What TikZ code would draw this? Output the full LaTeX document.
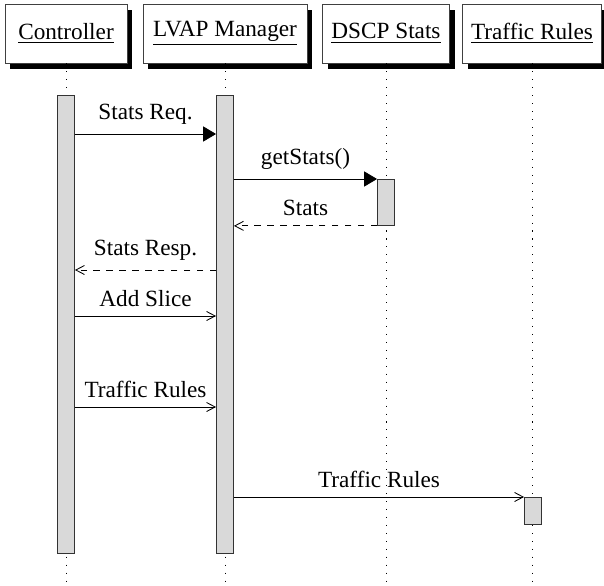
\documentclass[tikz,border=0pt]{standalone}
\usepackage{fontspec}
\setmainfont{Liberation Serif}
\usetikzlibrary{arrows.meta,calc,positioning,shadows}

\begin{document}
\begin{tikzpicture}[x=0.465pt, y=-0.465pt, font=\fontsize{10.8}{13}\selectfont,
    instance/.style={draw=black!75, fill=white, minimum height=27.4pt, inner xsep=4pt,
      drop shadow={shadow xshift=2.5pt, shadow yshift=-2.9pt, fill=black, opacity=1}},
    lifeline/.style={dash pattern=on 0.5pt off 3.2pt},
    activity/.style={draw=black!80, fill=gray!30, anchor=north, minimum width=7.9pt, inner sep=0pt},
    call/.style={-{Triangle[length=6pt,width=7pt]}},
    msg/.style={-{Straight Barb[length=4pt,width=4.2pt]}},
    reply/.style={msg, dashed},
    lbl/.style={above=1pt}]
        \useasboundingbox (0,0) rectangle (604,586);
        \coordinate (bottom) at (0,586);

        % Instances
        \node[instance, minimum width=56.7pt] (ctrl) at (66,33.5) {\underline{Controller}};
        \node[instance, minimum width=76.3pt] (lvap) at (225,33.5) {\underline{LVAP Manager}};
        \node[instance, minimum width=58pt] (dscp) at (386,33.5) {\underline{DSCP Stats}};
        \node[instance, minimum width=62.3pt] (rules) at (532,33.5) {\underline{Traffic Rules}};

        % Lifelines
        \foreach \inst in {ctrl,lvap,dscp,rules}
            \draw[lifeline] (\inst.south) -- (\inst.south |- bottom);

        % Activations
        \node[activity, minimum height=458*0.465pt] (ctrlbar) at (66,95) {};
        \node[activity, minimum height=458*0.465pt] (lvapbar) at (225,95) {};
        \node[activity, minimum height=46*0.465pt] (dscpbar) at (386,179) {};
        \node[activity, minimum height=27*0.465pt] (rulesbar) at (533,497) {};

        % Message levels
        \coordinate (m1) at (0,134);
        \coordinate (m4) at (0,270);
        \coordinate (m5) at (0,316);
        \coordinate (m6) at (0,407);

        % Messages
        \draw[call] (ctrlbar.east |- m1) -- node[lbl] {Stats Req.} (lvapbar.west |- m1);
        \draw[call] (lvapbar.east |- dscpbar.north west) -- node[lbl] {getStats()} (dscpbar.north west);
        \draw[reply] (dscpbar.south west) -- node[lbl] {Stats} (lvapbar.east |- dscpbar.south west);
        \draw[reply] (lvapbar.west |- m4) -- node[lbl] {Stats Resp.} (ctrlbar.east |- m4);
        \draw[msg] (ctrlbar.east |- m5) -- node[lbl] {Add Slice} (lvapbar.west |- m5);
        \draw[msg] (ctrlbar.east |- m6) -- node[lbl] {Traffic Rules} (lvapbar.west |- m6);
        \draw[msg] (lvapbar.east |- rulesbar.north west) -- node[lbl] {Traffic Rules} (rulesbar.north west);
\end{tikzpicture}
\end{document}
